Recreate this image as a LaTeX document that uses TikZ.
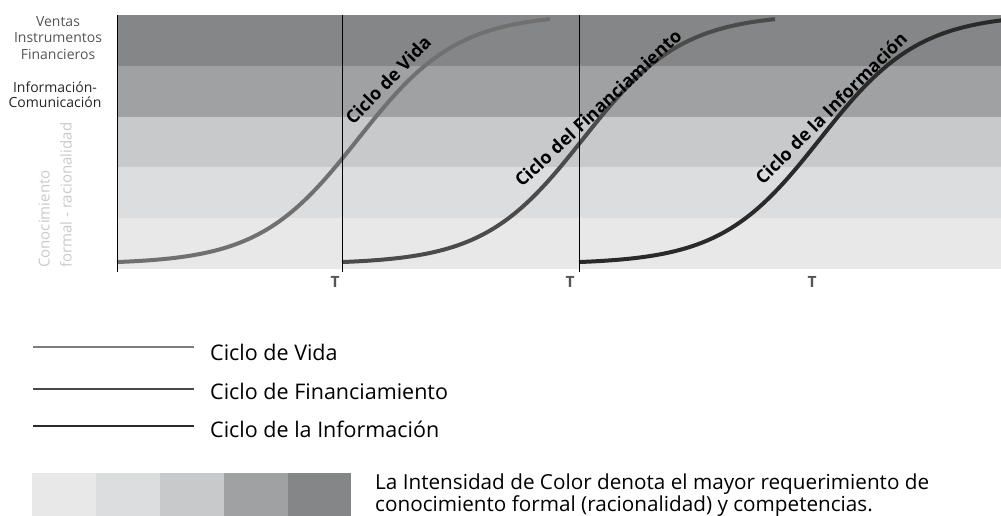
\documentclass[tikz,border=0pt]{standalone}
\usepackage{fontspec}
\setmainfont{Open Sans}
\definecolor{bandA}{HTML}{E8E8E8}
\definecolor{bandB}{HTML}{DCDDDF}
\definecolor{bandC}{HTML}{C8C9CB}
\definecolor{bandD}{HTML}{A0A1A3}
\definecolor{bandE}{HTML}{858687}
\definecolor{vidagray}{HTML}{707070}
\definecolor{fingray}{HTML}{4B4B4B}
\definecolor{infogray}{HTML}{2A2A2A}
\definecolor{labelgray}{HTML}{555555}
\definecolor{axisgray}{HTML}{C9C9C9}
\begin{document}
\begin{tikzpicture}[x=1pt, y=-1pt,
    sidelabel/.style={align=center, inner sep=0pt},
    cyclelabel/.style={font=\fontsize{18}{20}\selectfont\bfseries, inner sep=0pt},
    tlabel/.style={font=\fontsize{15.5}{16}\selectfont\bfseries, text=labelgray, inner sep=0pt},
    legendtext/.style={font=\fontsize{21.5}{22}\selectfont, anchor=west, inner sep=0pt}]
    \useasboundingbox (0,0) rectangle (1001,516);

    \fill[bandE] (117,15) rectangle (1001,66);
    \fill[bandD] (117,66) rectangle (1001,117);
    \fill[bandC] (117,117) rectangle (1001,167);
    \fill[bandB] (117,167) rectangle (1001,218);
    \fill[bandA] (117,218) rectangle (1001,269);

    \draw[vidagray, line width=4pt] plot[domain=0:433, samples=90] ({117+\x}, {264-250/(1+exp(-0.0201*(\x-241)))});
    \draw[fingray, line width=4pt] plot[domain=0:433, samples=90] ({342+\x}, {264-250/(1+exp(-0.0201*(\x-241)))});
    \draw[infogray, line width=4pt] plot[domain=0:422, samples=90] ({579+\x}, {264-250/(1+exp(-0.0201*(\x-241)))});

    \draw[line width=1pt] (117,15) -- (117,272);
    \draw[line width=1pt] (342,15) -- (342,272);
    \draw[line width=1pt] (579,15) -- (579,272);

    \node[sidelabel, text=labelgray, font=\fontsize{14}{16.3}\selectfont] (ventas) at (58,38) {Ventas\\Instrumentos\\Financieros};
    \node[sidelabel, text=black!85, font=\fontsize{14}{15}\selectfont] (infocom) at (55,95) {Información-\\Comunicación};
    \node[font=\fontsize{15}{22}\selectfont, text=axisgray, align=left, rotate=90, anchor=south west, inner sep=0pt] (conocimiento) at (72,268) {Conocimiento\\formal - racionalidad};

    \node[tlabel] (t1) at (335,282) {T};
    \node[tlabel] (t2) at (570,282) {T};
    \node[tlabel] (t3) at (812,282) {T};

    \node[cyclelabel, rotate=46] (vida) at (388,80) {Ciclo de Vida};
    \node[cyclelabel, rotate=43] (financ) at (598,108) {Ciclo del Financiamiento};
    \node[cyclelabel, rotate=45] (inform) at (831,108) {Ciclo de la Información};

    \coordinate (lvA) at (33,347);
    \coordinate (lvB) at (194,347);
    \coordinate (lfA) at (33,389);
    \coordinate (lfB) at (194,389);
    \coordinate (liA) at (33,426);
    \coordinate (liB) at (194,426);
    \draw[vidagray!90, line width=2.5pt] (lvA) -- (lvB);
    \draw[fingray, line width=2.5pt] (lfA) -- (lfB);
    \draw[infogray, line width=2.5pt] (liA) -- (liB);
    \node[legendtext] (legvida) at (210,352) {Ciclo de Vida};
    \node[legendtext] (legfin) at (210,391) {Ciclo de Financiamiento};
    \node[legendtext] (leginf) at (210,429) {Ciclo de la Información};

    \fill[bandA] (32,473) rectangle (96,516);
    \fill[bandB] (96,473) rectangle (160,516);
    \fill[bandC] (160,473) rectangle (224,516);
    \fill[bandD] (224,473) rectangle (288,516);
    \fill[bandE] (288,473) rectangle (351,516);
    \node[font=\fontsize{20.7}{19.5}\selectfont, align=left, anchor=north west, inner sep=0pt] (nota) at (375,474) {La Intensidad de Color denota el mayor requerimiento de\\conocimiento formal (racionalidad) y competencias.};
\end{tikzpicture}
\end{document}
